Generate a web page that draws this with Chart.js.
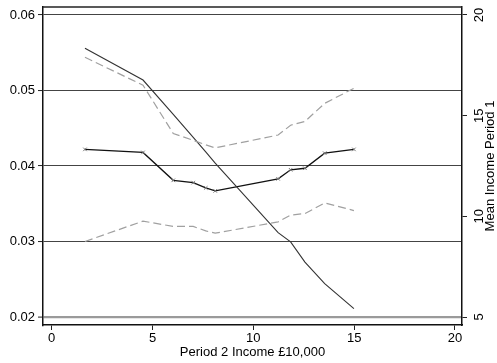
<!DOCTYPE html>
<html>
<head>
<meta charset="utf-8">
<script src="https://cdn.jsdelivr.net/npm/chart.js@4/dist/chart.umd.min.js"></script>
<style>
  html, body { margin: 0; padding: 0; background: #fff; }
  #wrap { width: 497px; height: 363px; }
</style>
</head>
<body>
<div id="wrap"><canvas id="chart" width="497" height="363"></canvas></div>
<script>
// Period 2 income bands (£10,000) at which each statistic is evaluated
const incomeP2 = [1.65, 4.53, 6.03, 7.02, 7.64, 8.11, 11.23, 11.85, 12.56, 13.54, 14.99];
// Point estimate and its confidence band (left axis)
const estimate = [0.0422, 0.0418, 0.0381, 0.0378, 0.0371, 0.0367, 0.0383, 0.0395, 0.0397, 0.0417, 0.0422];
const upperBand = [0.0544, 0.0507, 0.0443, 0.0434, 0.0428, 0.0424, 0.0441, 0.0454, 0.0459, 0.0483, 0.0503];
const lowerBand = [0.0300, 0.0327, 0.0320, 0.0320, 0.0314, 0.0311, 0.0326, 0.0335, 0.0337, 0.0351, 0.0341];
// Mean income in period 1 (right axis)
const meanIncomeP1 = [18.35, 16.77, 15.06, 13.92, 13.20, 12.64, 9.19, 8.73, 7.73, 6.66, 5.42];

// Axis ticks
const xTicks = [0, 5, 10, 15, 20];
const leftTicks = [0.02, 0.03, 0.04, 0.05, 0.06];
const rightTicks = [5, 10, 15, 20];

const xTitle = 'Period 2 Income £10,000';
const rightTitle = 'Mean Income Period 1';

const FONT = '"Liberation Sans", Arial, Helvetica, sans-serif';

const pts = (ys) => incomeP2.map((x, i) => ({ x, y: ys[i] }));

// Fixed axis thickness with no extra label overhang, so the plot frame stays put
const fitTo = (prop, size) => (s) => {
  s[prop] = size;
  s.paddingTop = 0; s.paddingBottom = 0; s.paddingLeft = 0; s.paddingRight = 0;
};

// Closes the plot frame along the top and writes the right-hand axis title
const framePlugin = {
  id: 'frame',
  afterDraw(chart) {
    const { ctx, chartArea } = chart;
    ctx.save();
    ctx.strokeStyle = '#222';
    ctx.lineWidth = 1.5;
    ctx.beginPath();
    ctx.moveTo(chartArea.left, chartArea.top);
    ctx.lineTo(chartArea.right, chartArea.top);
    ctx.stroke();

    ctx.fillStyle = '#000';
    ctx.font = '13px ' + FONT;
    ctx.textAlign = 'center';
    ctx.textBaseline = 'middle';
    ctx.translate(490.5, (chartArea.top + chartArea.bottom) / 2);
    ctx.rotate(-Math.PI / 2);
    ctx.fillText(rightTitle, 0, 0);
    ctx.restore();
  }
};

Chart.defaults.font.family = FONT;
Chart.defaults.font.size = 13;
Chart.defaults.color = '#000';

new Chart(document.getElementById('chart'), {
  type: 'line',
  data: {
    datasets: [
      {
        label: 'Upper',
        data: pts(upperBand),
        yAxisID: 'y',
        borderColor: '#a0a0a0',
        borderWidth: 1.2,
        borderDash: [8, 4],
        pointRadius: 0,
        fill: false,
        tension: 0
      },
      {
        label: 'Lower',
        data: pts(lowerBand),
        yAxisID: 'y',
        borderColor: '#a0a0a0',
        borderWidth: 1.2,
        borderDash: [8, 4],
        pointRadius: 0,
        fill: false,
        tension: 0
      },
      {
        label: 'Mean income period 1',
        data: pts(meanIncomeP1),
        yAxisID: 'y1',
        borderColor: '#333',
        borderWidth: 1.1,
        pointRadius: 0,
        fill: false,
        tension: 0
      },
      {
        label: 'Estimate',
        data: pts(estimate),
        yAxisID: 'y',
        borderColor: '#111',
        borderWidth: 1.3,
        pointStyle: 'crossRot',
        pointRadius: 2.5,
        pointBorderColor: '#777',
        pointBorderWidth: 1,
        fill: false,
        tension: 0
      }
    ]
  },
  options: {
    responsive: false,
    animation: false,
    events: [],
    layout: { padding: { top: 7, left: 0, right: 0, bottom: 0 } },
    plugins: {
      legend: { display: false },
      tooltip: { enabled: false }
    },
    scales: {
      x: {
        type: 'linear',
        position: 'bottom',
        min: -0.431,
        max: 20.35,
        afterBuildTicks: (s) => { s.ticks = xTicks.map(v => ({ value: v })); },
        afterFit: fitTo('height', 38),
        ticks: { padding: 1, maxRotation: 0, callback: (v) => String(v) },
        grid: { drawOnChartArea: false, drawTicks: true, tickLength: 5, tickColor: '#222', tickWidth: 1 },
        border: { display: true, color: '#111', width: 1.5 },
        title: { display: true, text: xTitle, padding: { top: 0, bottom: 2.5 } }
      },
      y: {
        type: 'linear',
        position: 'left',
        min: 0.01894,
        max: 0.06106,
        afterBuildTicks: (s) => { s.ticks = leftTicks.map(v => ({ value: v })); },
        afterFit: fitTo('width', 43),
        ticks: { padding: 3, callback: (v) => v.toFixed(2) },
        grid: {
          drawTicks: true,
          tickLength: 5,
          tickColor: '#222',
          tickWidth: 1,
          color: (c) => (c.tick && Math.abs(c.tick.value - 0.02) < 1e-9 ? '#9a9a9a' : '#444'),
          lineWidth: (c) => (c.tick && Math.abs(c.tick.value - 0.02) < 1e-9 ? 2.2 : 1.1)
        },
        border: { display: true, color: '#111', width: 1.5 }
      },
      y1: {
        type: 'linear',
        position: 'right',
        min: 4.603,
        max: 20.397,
        afterBuildTicks: (s) => { s.ticks = rightTicks.map(v => ({ value: v })); },
        afterFit: fitTo('width', 35),
        ticks: { padding: 5, minRotation: 90, maxRotation: 90, crossAlign: 'center', callback: (v) => String(v) },
        grid: { drawOnChartArea: false, drawTicks: true, tickLength: 5, tickColor: '#222', tickWidth: 1 },
        border: { display: true, color: '#111', width: 1.5 }
      }
    }
  },
  plugins: [framePlugin]
});
</script>
</body>
</html>
